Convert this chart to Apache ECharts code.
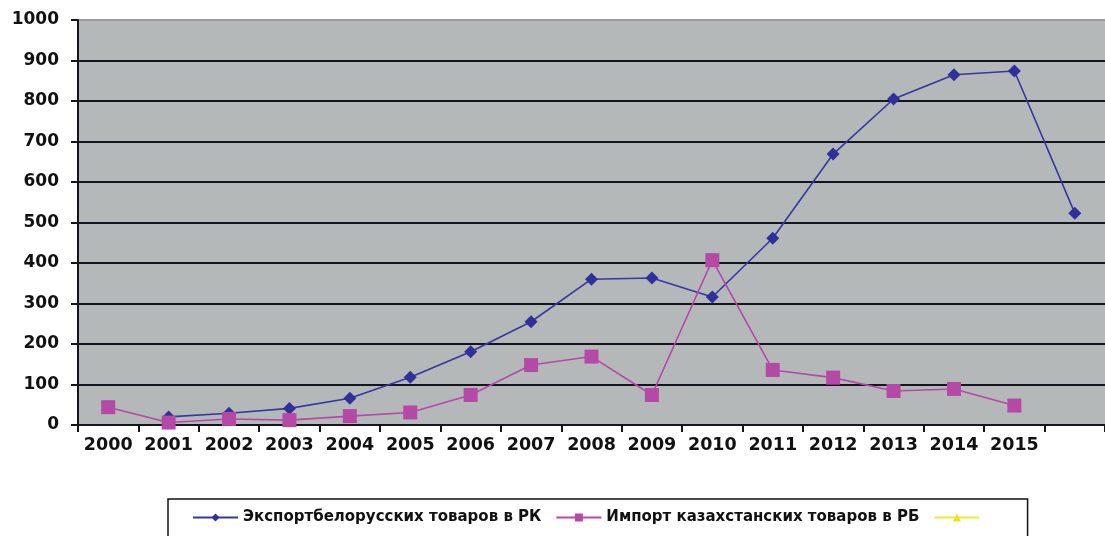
<!DOCTYPE html>
<html>
<head>
<meta charset="utf-8">
<script src="https://cdn.jsdelivr.net/npm/echarts@6/dist/echarts.min.js"></script>
<style>html,body{margin:0;padding:0;background:#fff;}#c{width:1105px;height:536px;}</style>
</head>
<body>
<div id="c"></div>
<script>
const categories = ['2000','2001','2002','2003','2004','2005','2006','2007','2008','2009','2010','2011','2012','2013','2014','2015',''];
const exportBY = [null, 20, 29, 41, 66, 118, 181, 255, 360, 363, 316, 461, 669, 805, 865, 874, 523];
const importKZ = [44, 6, 15, 12, 22, 31, 74, 148, 169, 74, 407, 136, 117, 84, 89, 48, null];
const thirdSeries = [];
const yTicks = [0, 100, 200, 300, 400, 500, 600, 700, 800, 900, 1000];

const chart = echarts.init(document.getElementById('c'));
const dark = '#15151f';
const gridColors = yTicks.map((v, i) => i === yTicks.length - 1 ? '#9a9c9d' : dark);
chart.setOption({
  animation: false,
  textStyle: { fontFamily: 'DejaVu Sans' },
  grid: { left: 78, top: 20, width: 1039, height: 405, show: true, backgroundColor: '#b5b8b9', borderWidth: 0 },
  xAxis: {
    type: 'category',
    data: categories,
    boundaryGap: true,
    axisLine: { lineStyle: { color: dark, width: 2 } },
    axisTick: { show: true, length: 7, lineStyle: { color: dark, width: 2 }, interval: 0 },
    axisLabel: { color: '#111', fontSize: 17.5, fontWeight: 'bold', margin: 11, interval: 0, fontFamily: 'DejaVu Sans' }
  },
  yAxis: {
    type: 'value',
    min: 0, max: 1000, interval: 100,
    axisLine: { show: true, lineStyle: { color: dark, width: 2 } },
    axisTick: { show: true, length: 7, lineStyle: { color: dark, width: 2 } },
    axisLabel: { color: '#111', fontSize: 17, fontWeight: 'bold', margin: 19, fontFamily: 'DejaVu Sans', formatter: v => String(v) },
    splitLine: { show: true, lineStyle: { color: gridColors, width: 2 } }
  },
  legend: {
    left: 168, top: 499,
    padding: [11, 38, 30, 24],
    borderColor: '#111', borderWidth: 1.5,
    itemWidth: 45, itemHeight: 10, itemGap: 14,
    textStyle: { color: '#111', fontSize: 15, fontWeight: 'bold', fontFamily: 'DejaVu Sans' },
    data: ['Экспортбелорусских товаров в РК', 'Импорт казахстанских товаров в РБ', ' ']
  },
  series: [
    {
      name: 'Экспортбелорусских товаров в РК', type: 'line', data: exportBY,
      symbol: 'diamond', symbolSize: 13,
      lineStyle: { color: '#3636a4', width: 1.6 },
      itemStyle: { color: '#30309c' }
    },
    {
      name: 'Импорт казахстанских товаров в РБ', type: 'line', data: importKZ,
      symbol: 'rect', symbolSize: 14,
      lineStyle: { color: '#b648aa', width: 1.6 },
      itemStyle: { color: '#b54aa6' }
    },
    {
      name: ' ', type: 'line', data: thirdSeries,
      symbol: 'triangle', symbolSize: 10,
      lineStyle: { color: '#f2ea3a', width: 1.6 },
      itemStyle: { color: '#f0e020' }
    }
  ]
});
</script>
</body>
</html>
